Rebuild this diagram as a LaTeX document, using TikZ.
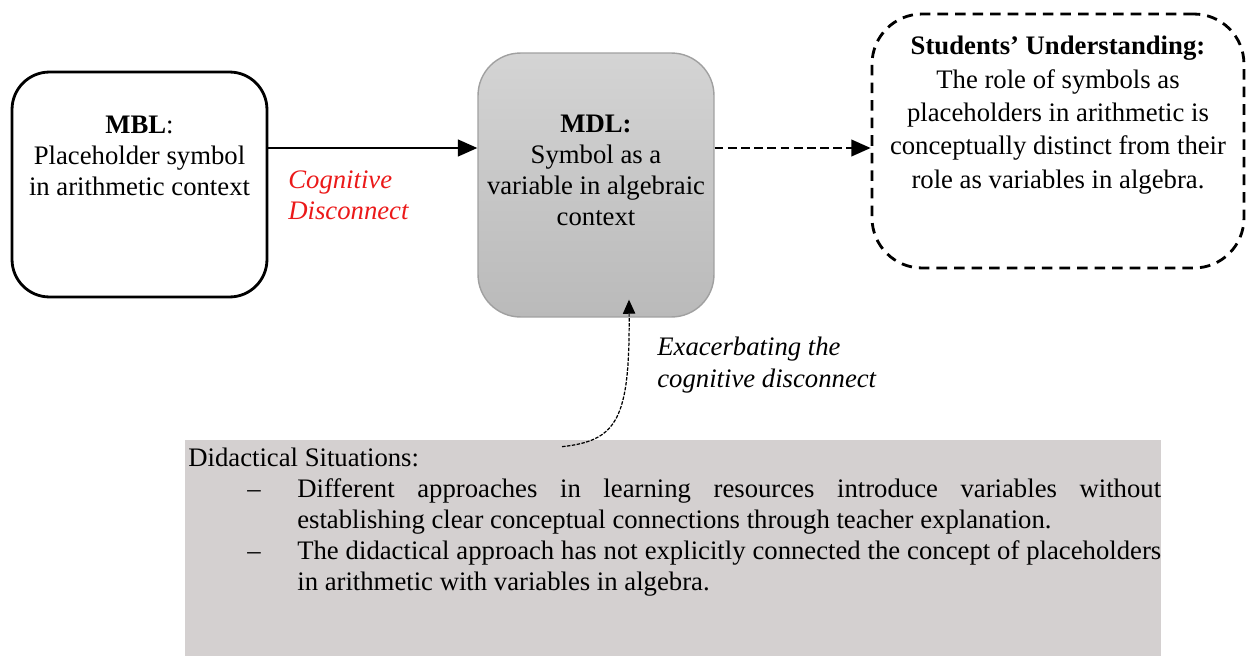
\documentclass[tikz,border=0pt]{standalone}
\usepackage{fontspec}
\setmainfont{Liberation Serif}
\usepackage{tikz}
\definecolor{mdl-top}{RGB}{212,212,212}
\definecolor{mdl-bottom}{RGB}{186,186,186}
\definecolor{mdl-edge}{RGB}{160,160,160}
\definecolor{sit-gray}{RGB}{212,208,208}
\definecolor{cog-red}{RGB}{235,25,25}
\usetikzlibrary{arrows.meta}
\newcommand*\bodyfont{\fontsize{15.2}{17.6}\selectfont}
\newcommand*\stufont{\fontsize{15.2}{19}\selectfont}
\newcommand*\sitdash{\makebox[1cm][l]{--}}

\begin{document}
\begin{tikzpicture}[x=0.02cm,y=-0.02cm,
	mblbox/.style={draw,line width=1.6pt,rounded corners=0.75cm,minimum width=5.1cm,minimum height=4.5cm},
	mdlbox/.style={draw=mdl-edge,line width=0.8pt,rounded corners=0.85cm,top color=mdl-top,bottom color=mdl-bottom,minimum width=4.72cm,minimum height=5.28cm},
	stubox/.style={draw,line width=1.6pt,dash pattern=on 6pt off 4pt,rounded corners=1cm,minimum width=7.44cm,minimum height=5.08cm},
	sitbox/.style={fill=sit-gray,minimum width=19.52cm,minimum height=4.32cm,inner sep=0pt},
	txt/.style={align=center,font=\bodyfont,inner sep=0pt},
	note/.style={align=left,font=\bodyfont\itshape,inner sep=0pt},
	tip/.style={-{Triangle[length=11pt,width=9.5pt]}}]
	\useasboundingbox (0,0) rectangle (1248,656);

	% boxes
	\node[mblbox] (mbl) at (139.5,184.5) {};
	\node[mdlbox] (mdl) at (596,185) {};
	\node[stubox] (stu) at (1058,141) {};
	\node[sitbox] (situ) at (673,548) {};

	% texts
	\node[txt] (mbltext) at (139.5,156) {\textbf{MBL}:\\Placeholder symbol\\in arithmetic context};
	\node[txt] (mdltext) at (596,170) {\textbf{MDL:}\\Symbol as a\\variable in algebraic\\context};
	\node[txt,font=\stufont] (stutext) at (1058,115) {\textbf{Students’ Understanding:}\\The role of symbols as\\placeholders in arithmetic is\\conceptually distinct from their\\role as variables in algebra.};
	\node[note,text=cog-red,anchor=west] (cog) at (288,195) {Cognitive\\Disconnect};
	\node[note,anchor=west,font=\fontsize{15.2}{18.6}\selectfont\itshape] (exa) at (657,365) {Exacerbating the\\cognitive disconnect};
	\node[anchor=north west,text width=19.46cm,align=justify,font=\bodyfont,inner sep=0pt] (sittext) at (188,448) {Didactical Situations:
		\begin{list}{}{\setlength\leftmargin{2.18cm}\setlength\labelwidth{1cm}\setlength\labelsep{0pt}%
			\setlength\topsep{0pt}\setlength\partopsep{0pt}\setlength\itemsep{0pt}\setlength\parsep{0pt}}
		\item[\sitdash] Different approaches in learning resources introduce variables without\linebreak establishing clear conceptual connections through teacher explanation.
		\item[\sitdash] The didactical approach has not explicitly connected the concept of placeholders in arithmetic with variables in algebra.
		\end{list}};

	% connectors
	\coordinate (lvl) at (0,148);
	\draw[tip,line width=1.1pt] (mbl.east |- lvl) -- (mdl.west |- lvl);
	\draw[tip,line width=1.1pt,dash pattern=on 5pt off 2.5pt] (mdl.east |- lvl) -- (stu.west |- lvl);
	\draw[line width=0.7pt,dash pattern=on 2pt off 0.8pt,-{Triangle[length=8pt,width=7pt]}]
		([xshift=-2.22cm,yshift=-0.14cm]situ.north) .. controls +(55,-6) and +(1,120) .. ([xshift=0.66cm,yshift=0.36cm]mdl.south);
\end{tikzpicture}
\end{document}
